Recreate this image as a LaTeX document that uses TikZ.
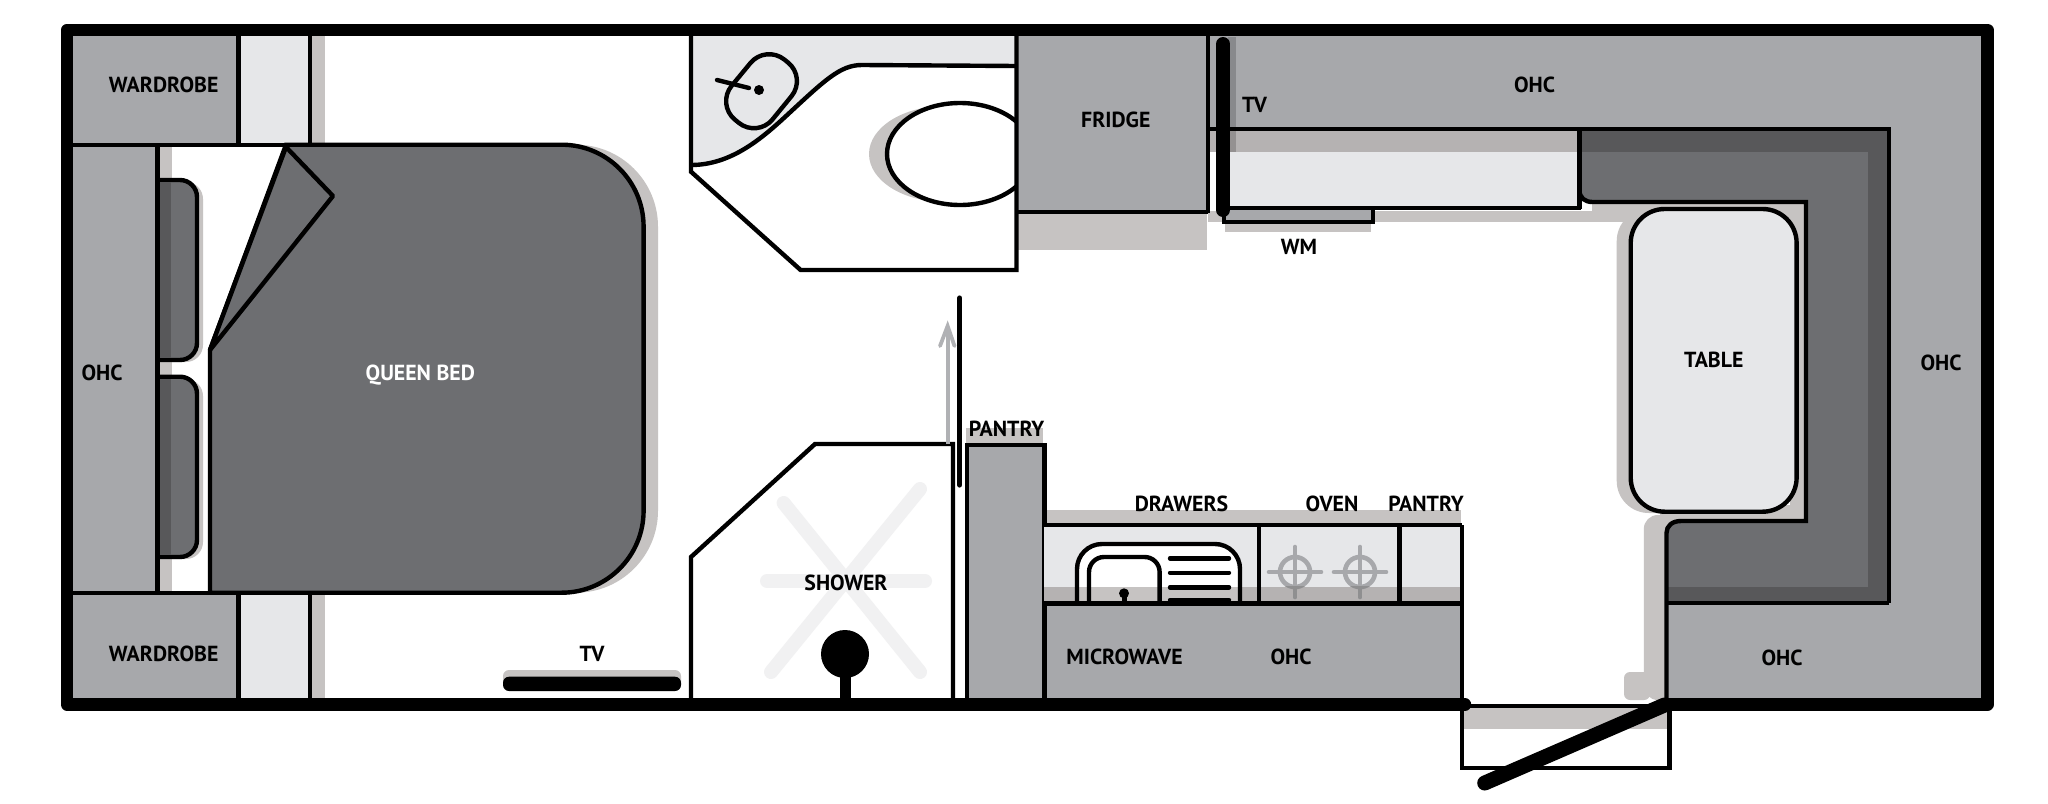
\documentclass[tikz,border=0pt]{standalone}
\usepackage{fontspec}
\setmainfont{PT Sans}
\definecolor{cab}{HTML}{A7A8AB}
\definecolor{bedc}{HTML}{6D6E71}
\definecolor{darkc}{HTML}{58585A}
\definecolor{lightc}{HTML}{E6E7E9}
\definecolor{shad}{HTML}{C6C3C2}
\definecolor{shadb}{HTML}{B5B2B2}
\definecolor{drain}{HTML}{F1F1F2}
\definecolor{arrowc}{HTML}{B0B1B4}
\definecolor{burnlow}{HTML}{8F8F90}
\tikzset{
  ln/.style={draw=black,line width=2.2pt,line join=miter},
  wall/.style={draw=black,line width=6.2pt,line join=round,line cap=round},
  lab/.style={font=\fontsize{10.9pt}{12pt}\selectfont\bfseries,text=black,inner sep=0pt,anchor=center,text height=7.6pt,text depth=0pt,yshift=-0.6pt},
  burner/.style={draw=#1,line width=2.3pt,line cap=round},
  drainx/.style={draw=drain,line width=7pt,line cap=round}
}
\begin{document}
\begin{tikzpicture}[x=0.5pt,y=-0.5pt]
\useasboundingbox (0,0) rectangle (2048,803);
\fill[white] (0,0) rectangle (2048,803);

% ---- soft shadows
\fill[shad] (312,36) rectangle (324.5,144);
\fill[shad] (312,592) rectangle (324.5,698);
\fill[shad] (160,146) rectangle (171.5,592);
\fill[shad,rounded corners=41pt] (500,144.7) rectangle (658,592.7);
\fill[shad,rounded corners=8.5pt] (150,182) rectangle (203,362);
\fill[shad,rounded corners=8.5pt] (150,379) rectangle (203,559);
\fill[shad,rounded corners=3pt] (503,670) rectangle (681,688);
\fill[shad] (1018,213) rectangle (1207,250);
\fill[shad] (1208,211) rectangle (1640,222);
\fill[shad] (1225,215) rectangle (1371,232);
\fill[shad] (1592,203) rectangle (1806,222);
\fill[shad,rounded corners=16pt] (1700,209) -- (1616.7,209) -- (1616.7,513) -- (1700,513) -- cycle;
\fill[shad] (1790,203) rectangle (1806,521);
\fill[shad] (1660,505) rectangle (1806,521);
\fill[shad,rounded corners=7pt] (1643.8,700) -- (1643.8,515) -- (1690,515) -- (1690,700) -- cycle;
\fill[shad,rounded corners=3pt] (1624,700) -- (1624,672) -- (1650,672) -- (1650,700) -- cycle;
\fill[shad] (966,428) rectangle (1043,445);
\fill[shad] (1044,510) rectangle (1461,525);
\fill[shad] (1464,708) rectangle (1667,729);

% ---- cabinets
\fill[cab] (72,36) rectangle (238.6,144.7);
\fill[cab] (72,592.7) rectangle (238.6,698);
\fill[cab] (72,144.7) rectangle (157.5,592.7);
\fill[lightc] (238.6,36) rectangle (309.7,144.7);
\fill[lightc] (238.6,592.7) rectangle (309.7,698);
\fill[cab] (1016.5,36) rectangle (1207.7,211.7);
\fill[cab] (1208,36) -- (1982,36) -- (1982,698) -- (1666.5,698) -- (1666.5,603) -- (1888.7,603) -- (1888.7,129) -- (1208,129) -- cycle;
\fill[cab] (966.7,445) rectangle (1044,698);
\fill[cab] (1044,603) rectangle (1462,698);

% ---- long counter under the top cupboards
\fill[white] (1208,129) rectangle (1236,209);
\fill[lightc] (1229,129) rectangle (1579.4,208);
\fill[shadb] (1210,129) rectangle (1579.4,151.7);
\fill[cab] (1224,208) rectangle (1373,221.7);
\draw[ln] (1224,208) -- (1224,221.7) -- (1373,221.7) -- (1373,208);
\fill[black,opacity=.18] (1228,37) rectangle (1236,152);

% ---- bathroom
\fill[white] (691,36) -- (1016.5,36) -- (1016.5,270) -- (800.6,270) -- (691,171.7) -- cycle;
\fill[lightc] (691,36) -- (1016.5,36) -- (1016.5,65) -- (862,65) .. controls (840,65) and (825,80) .. (785,117) .. controls (760,140) and (730,165) .. (691,165) -- cycle;
\draw[ln] (1016.5,66) -- (862,65) .. controls (840,65) and (825,80) .. (785,117) .. controls (760,140) and (730,165) .. (691,165);
\draw[ln,rounded corners=12pt] (757.3,138) -- (716.3,104.4) -- (765.7,44.5) -- (806.7,77.6) -- cycle;
\draw[line width=2.2pt,line cap=round] (717,80) -- (749,88);
\fill[black] (759,90) circle [radius=5];
\begin{scope}
  \clip (850,90) rectangle (1016.5,220);
  \fill[shad] (945,154) ellipse [x radius=76,y radius=48];
  \filldraw[ln,fill=white] (960,154) ellipse [x radius=73,y radius=51];
\end{scope}
\draw[ln] (691,36) -- (691,171.7) -- (800.6,270) -- (1016.5,270) -- (1016.5,36);

% ---- bed and pillows
\foreach \ya/\yb in {180/360,376.7/557}{
  \filldraw[ln,fill=bedc,rounded corners=8.5pt] (158,\ya) -- (197,\ya) -- (197,\yb) -- (158,\yb);
  \fill[darkc] (160,\ya+2) rectangle (171,\yb-2);
}
\filldraw[ln,fill=bedc] (210,592.7) -- (210,350) -- (286,144.7) [rounded corners=41pt] -- (643.6,144.7) -- (643.6,592.7) [sharp corners] -- cycle;
\filldraw[ln,fill=bedc,line join=round] (210,350) -- (286,147) -- (333,196) -- cycle;

% ---- cupboard lines, left end
\draw[ln] (72,144.7) -- (290,144.7);
\draw[ln] (72,592.7) -- (290,592.7);
\draw[ln] (238.6,36) -- (238.6,144.7);
\draw[ln] (309.7,36) -- (309.7,144.7);
\draw[ln] (238.6,592.7) -- (238.6,698);
\draw[ln] (309.7,592.7) -- (309.7,698);
\draw[ln] (157.5,144.7) -- (157.5,592.7);

% ---- fridge and top run
\draw[ln] (1016.5,211.7) -- (1207.7,211.7);
\draw[ln] (1207.7,36) -- (1207.7,213);
\draw[ln] (1218,208) -- (1581,208);
\draw[black,line width=7pt,line cap=round] (1223,44) -- (1223,210);

% ---- dinette
\fill[bedc] (1579.4,129) -- (1888.7,129) -- (1888.7,603) -- (1666.5,603) -- (1666.5,533) .. controls (1666.5,526) and (1672,521) .. (1681,521) -- (1806,521) -- (1806,202) -- (1592.5,202) .. controls (1585,202) and (1579.4,198) .. (1579.4,190) -- cycle;
\fill[darkc] (1579.4,131) rectangle (1886.7,151.7);
\fill[darkc] (1867.7,151.7) rectangle (1886.7,601);
\fill[darkc] (1668,586.7) rectangle (1886.7,601);
\draw[ln] (1579.4,129) -- (1579.4,209);
\draw[ln] (1579.4,190) .. controls (1579.4,198) and (1585,202) .. (1592.5,202) -- (1806,202) -- (1806,521) -- (1681,521) .. controls (1672,521) and (1666.5,526) .. (1666.5,533) -- (1666.5,698);
\draw[ln] (1666.5,603) -- (1888.7,603);
\draw[ln] (1208,129) -- (1218,129);
\draw[ln] (1229,129) -- (1888.7,129) -- (1888.7,603);
\filldraw[ln,fill=lightc,rounded corners=17pt] (1630.7,209) rectangle (1796.6,511.7);

% ---- shower
\draw[drainx] (783.6,503) -- (920,672);
\draw[drainx] (920,489) -- (771,672);
\draw[drainx] (767,581) -- (925,581);
\fill[black] (845,654) circle [radius=24];
\fill[black] (839.5,654) rectangle (850.5,698);
\draw[ln] (691,698) -- (691,557) -- (815,444) -- (953,444) -- (953,698);
\draw[arrowc,line width=1.9pt] (947.6,444) -- (947.6,328);
\draw[arrowc,line width=1.9pt,line join=miter,line cap=round] (940,346) -- (947.6,326) -- (954.5,346);
\draw[black,line width=2.6pt,line cap=round] (959.7,298) -- (959.7,485);

% ---- kitchen
\draw[ln] (966.7,698) -- (966.7,445) -- (1044.3,445) -- (1044.3,698);
\fill[lightc] (1044.3,525) rectangle (1462,603.3);
\fill[white,rounded corners=12.5pt] (1077,544) -- (1240,544) -- (1240,603) -- (1077,603) -- cycle;
\fill[shadb] (1044.3,586.7) rectangle (1462,603.3);
\fill[shad] (1077,586.7) rectangle (1240,603.3);
\fill[white,rounded corners=7.5pt] (1089,557) -- (1159.6,557) -- (1159.6,586.7) -- (1089,586.7) -- cycle;
\draw[ln,rounded corners=12.5pt] (1077,603) -- (1077,544) -- (1240,544) -- (1240,603);
\draw[ln,rounded corners=7.5pt] (1089,603) -- (1089,557) -- (1159.6,557) -- (1159.6,603);
\foreach \yy in {558.3,572.7,587.3,600}{\draw[line width=2.2pt,line cap=round] (1170,\yy) -- (1229,\yy);}
\fill[black] (1124,593.3) circle [radius=5];
\fill[black] (1121.5,596) rectangle (1126.5,603);
\foreach \xx in {1295,1360}{
  \draw[burner=cab] (\xx,572) circle [radius=15];
  \draw[burner=cab] (\xx-26,572) -- (\xx+26,572);
  \draw[burner=cab] (\xx,547) -- (\xx,597);
  \begin{scope}
    \clip (\xx-30,586.7) rectangle (\xx+30,603);
    \draw[burner=burnlow] (\xx,572) circle [radius=15];
    \draw[burner=burnlow] (\xx,547) -- (\xx,597);
  \end{scope}
}
\draw[ln] (1044.3,525) -- (1462,525);
\draw[ln] (1044.3,603.3) -- (1462,603.3);
\draw[ln] (1259,525) -- (1259,603.3);
\draw[ln] (1399.4,525) -- (1399.4,603.3);
\draw[ln] (1462,525) -- (1462,698);

% ---- TV, door step, door, outer wall
\fill[black,rounded corners=3pt] (503,676.7) rectangle (681,691);
\draw[ln] (1462,706) -- (1669.4,706) -- (1669.4,768) -- (1462,768) -- cycle;
\draw[wall] (1465,704.5) -- (67,704.5) -- (67,30) -- (1987.5,30) -- (1987.5,704.5) -- (1666,704.5);
\draw[black,line width=7.5pt,line cap=round] (1664.5,705) -- (1484.7,783);

% ---- labels
\node[lab] (wt) at (163.6,84) {WARDROBE};
\node[lab] (wb) at (163.6,652.7) {WARDROBE};
\node[lab] (ol) at (102,371.7) {OHC};
\node[lab,text=white] (qb) at (420.3,371.7) {QUEEN BED};
\node[lab] (tvb) at (592,652.7) {TV};
\node[lab] (fr) at (1115.8,119) {FRIDGE};
\node[lab] (tvt) at (1254.6,104) {TV};
\node[lab] (wm) at (1299,245.7) {WM};
\node[lab] (ot) at (1534.6,84) {OHC};
\node[lab] (tb) at (1713.7,359) {TABLE};
\node[lab] (or) at (1941,361.7) {OHC};
\node[lab] (obr) at (1782,656.7) {OHC};
\node[lab] (pa) at (1006.5,428) {PANTRY};
\node[lab] (sh) at (846,581.7) {SHOWER};
\node[lab] (dr) at (1181.5,502.7) {DRAWERS};
\node[lab] (ov) at (1332,502.7) {OVEN};
\node[lab] (pb) at (1426,502.7) {PANTRY};
\node[lab] (mw) at (1124.5,656) {MICROWAVE};
\node[lab] (ok) at (1291,656) {OHC};
\end{tikzpicture}
\end{document}
